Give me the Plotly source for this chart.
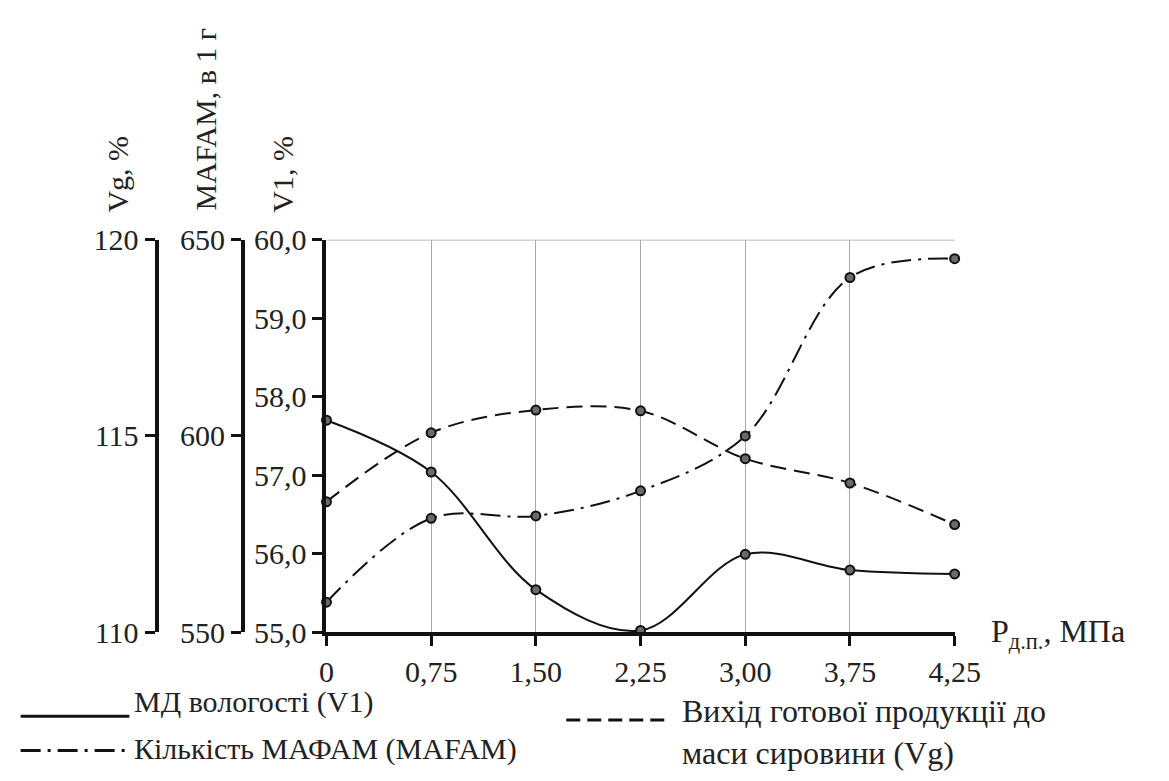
import plotly.graph_objects as go

# ---- data ----
pressure = ["0", "0,75", "1,50", "2,25", "3,00", "3,75", "4,25"]
v1 = [57.70, 57.04, 55.54, 55.02, 55.99, 55.79, 55.74]          # МД вологості, %
mafam = [557.6, 579.0, 579.6, 586.0, 600.0, 640.4, 645.2]        # МАФАМ, в 1 г
vg = [113.32, 115.08, 115.66, 115.64, 114.42, 113.80, 112.74]    # Вихід, %

W, H = 1169, 781
FONT = "Liberation Serif, Times New Roman, serif"
TXT = "#222222"


def px(x):
    return x / W


def py(y):
    return 1 - y / H


marker = dict(symbol="circle", size=9, color="#6a6a6a", line=dict(color="#111111", width=2))
DASHDOT = "20px,7px,3px,7px"
DASHED = "16px,8px"

fig = go.Figure()
fig.add_trace(go.Scatter(x=pressure, y=v1, mode="lines+markers", name="МД вологості (V1)",
                         line=dict(color="#111111", width=2, shape="spline", smoothing=1.0),
                         marker=marker, cliponaxis=False, yaxis="y"))
fig.add_trace(go.Scatter(x=pressure, y=mafam, mode="lines+markers", name="Кількість МАФАМ (MAFAM)",
                         line=dict(color="#111111", width=2, shape="spline", smoothing=1.0,
                                   dash=DASHDOT),
                         marker=marker, cliponaxis=False, yaxis="y2"))
fig.add_trace(go.Scatter(x=pressure, y=vg, mode="lines+markers", name="Вихід готової продукції до маси сировини (Vg)",
                         line=dict(color="#111111", width=2, shape="spline", smoothing=1.0,
                                   dash=DASHED),
                         marker=marker, cliponaxis=False, yaxis="y3"))

tickfont = dict(family=FONT, size=30, color=TXT)
axis_common = dict(showline=True, linecolor="#111111", linewidth=4, ticks="outside",
                   ticklen=10, tickwidth=3, tickcolor="#111111", tickfont=tickfont,
                   showgrid=False, zeroline=False)

fig.update_layout(
    width=W, height=H,
    margin=dict(l=0, r=0, t=0, b=0),
    paper_bgcolor="white", plot_bgcolor="white",
    separators=", ",
    showlegend=False,
    font=dict(family=FONT, color=TXT),
    xaxis=dict(domain=[px(328), px(975)], type="category", range=[0, 6],
               showline=True, linecolor="#111111", linewidth=4, ticks="outside",
               ticklen=10, tickwidth=3, tickcolor="#111111", tickfont=tickfont,
               showgrid=True, gridcolor="#a8a8a8", gridwidth=1, zeroline=False,
               anchor="y"),
    yaxis=dict(domain=[py(643), py(233)], range=[55, 60], dtick=1, tickformat=".1f",
               anchor="x", **axis_common),
    yaxis2=dict(domain=[py(643), py(233)], range=[550, 650], dtick=50, overlaying="y",
                anchor="free", position=px(242), side="left", **axis_common),
    yaxis3=dict(domain=[py(643), py(233)], range=[110, 120], dtick=5, overlaying="y",
                anchor="free", position=px(153), side="left", **axis_common),
)

# top frame line of the plot area at 60,0
fig.add_shape(type="line", xref="paper", yref="y", x0=px(328), x1=px(975), y0=60, y1=60,
              line=dict(color="#a8a8a8", width=1.5), layer="below")

title_font = dict(family=FONT, size=30, color=TXT)
# rotated axis titles
for text, cx, cy in [("Vg, %", 113, 164), ("MAFAM, в 1 г", 203, 107), ("V1, %", 283, 164)]:
    fig.add_annotation(text=text, x=px(cx), y=py(cy), xref="paper", yref="paper",
                       textangle=-90, showarrow=False, xanchor="center", yanchor="middle",
                       font=title_font)

# x-axis title
fig.add_annotation(text="P<sub>д.п.</sub>, МПа", x=px(1010), y=py(645), xref="paper", yref="paper",
                   showarrow=False, xanchor="left", yanchor="middle",
                   font=dict(family=FONT, size=32, color=TXT))

# legend (drawn manually)
leg_font = dict(family=FONT, size=30, color=TXT)
fig.add_shape(type="line", xref="paper", yref="paper", x0=px(13), x1=px(125), y0=py(731), y1=py(731),
              line=dict(color="#111111", width=3))
fig.add_annotation(text="МД вологості (V1)", x=px(128), y=py(716), xref="paper", yref="paper",
                   showarrow=False, xanchor="left", yanchor="middle", font=leg_font)
fig.add_shape(type="line", xref="paper", yref="paper", x0=px(13), x1=px(125), y0=py(767), y1=py(767),
              line=dict(color="#111111", width=3, dash=DASHDOT))
fig.add_annotation(text="Кількість МАФАМ (MAFAM)", x=px(128), y=py(765), xref="paper", yref="paper",
                   showarrow=False, xanchor="left", yanchor="middle", font=leg_font)

fig.add_shape(type="line", xref="paper", yref="paper", x0=px(575), x1=px(683), y0=py(735), y1=py(735),
              line=dict(color="#111111", width=3, dash="14px,7px"))
fig.add_annotation(text="Вихід готової продукції до<br>маси сировини (Vg)", x=px(692), y=py(748),
                   xref="paper", yref="paper", showarrow=False, xanchor="left", yanchor="middle",
                   align="left", font=dict(family=FONT, size=32, color=TXT))

fig.write_html("out.html")
